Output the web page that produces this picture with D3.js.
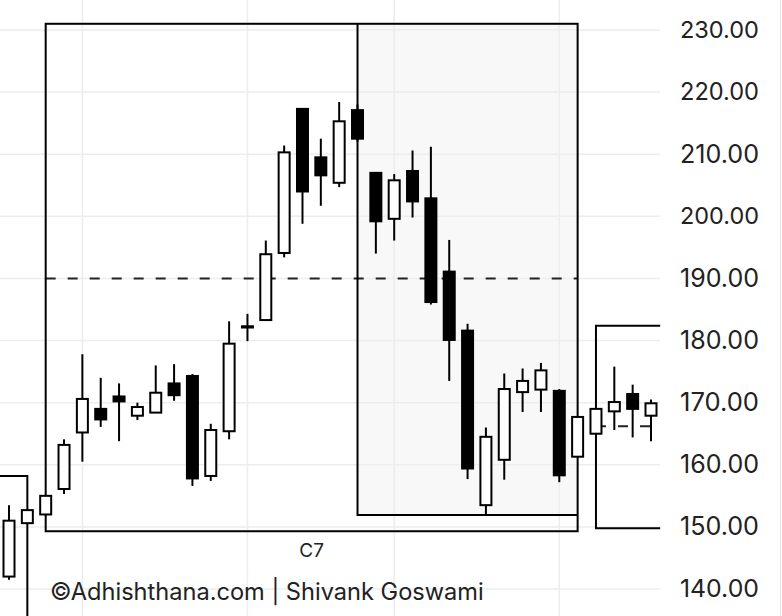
<!DOCTYPE html>
<html>
<head>
<meta charset="utf-8">
<script src="https://cdn.jsdelivr.net/npm/d3@7"></script>
<style>
  html, body { margin: 0; padding: 0; background: #fff; }
  svg { display: block; }
</style>
</head>
<body>
<svg id="chart" width="782" height="616"></svg>
<script>
// ---------- data ----------
const categories = [0,1,2,3,4,5,6,7,8,9,10,11,12,13,14,15,16,17,18,19,20,21,22,23,24,25,26,27,28,29,30,31,32,33,34,35];
const openV  = [142.0,150.6,152.0,156.1,165.2,169.0,171.0,167.9,168.4,173.1,174.3,158.2,165.4,182.1,183.3,194.1,217.3,209.5,205.4,217.1,207.0,199.6,207.3,202.9,191.1,181.6,153.5,160.8,171.7,172.1,171.9,161.3,165.0,168.6,171.4,167.9];
const highV  = [153.5,152.7,155.0,164.1,177.8,174.0,173.1,170.0,176.0,176.2,174.6,166.6,183.1,184.3,196.1,211.4,217.4,212.5,218.4,218.0,207.0,206.8,210.6,211.2,196.2,182.7,166.0,174.7,175.5,176.4,172.2,167.7,169.0,175.8,172.9,170.5];
const lowV   = [141.5,150.6,151.8,155.3,160.5,166.1,163.8,167.2,168.4,170.3,156.6,157.4,164.1,179.9,183.3,193.4,198.8,201.7,204.7,212.0,194.0,196.1,199.8,185.8,173.5,157.7,151.8,157.6,168.5,168.5,157.2,161.3,165.0,165.6,164.4,163.8];
const closeV = [151.0,152.7,155.0,163.2,170.6,167.3,170.2,169.3,171.6,171.2,157.8,165.6,179.5,182.3,193.9,210.3,204.0,206.6,215.3,212.5,199.2,205.8,202.4,186.2,180.1,159.4,164.5,172.2,173.5,175.2,158.3,167.7,169.0,170.1,169.0,169.9];

const yTicks = [140,150,160,170,180,190,200,210,220,230];
const vGridAt = [4,13,21,30];

// boxes: [startIndex, endIndex, topValue, bottomValue]
const leftBox  = [-1, 1, 158.2, 135];
const mainBox  = [2, 31, 231.0, 149.3];
const shadeBox = [19, 31, 231.0, 151.9];
const rightBox = [32, 35.5, 182.4, 149.8];
const midLine  = [2, 31, 190.0];
const subLine  = [32, 35, 166.2];
const boxLabel = "C7";
const credit = "©Adhishthana.com | Shivank Goswami";

// ---------- scales ----------
const W = 782, H = 616;
const x = d3.scaleLinear().domain([0, 35]).range([9, 651]);
const y = d3.scaleLinear().domain([140, 230]).range([589, 30]);
const FONT = "Inter, 'Noto Sans', sans-serif";

const svg = d3.select("#chart");
svg.append("rect").attr("width", W).attr("height", H).attr("fill", "#fff");

// shaded region
svg.append("rect")
  .attr("x", x(shadeBox[0])).attr("y", y(shadeBox[2]))
  .attr("width", x(shadeBox[1]) - x(shadeBox[0]))
  .attr("height", y(shadeBox[3]) - y(shadeBox[2]))
  .attr("fill", "#f8f8f8");

// grid
const grid = svg.append("g").attr("stroke", "#ededed").attr("stroke-width", 1.5);
grid.selectAll("line.h").data(yTicks).join("line")
  .attr("x1", 0).attr("x2", x(35.5))
  .attr("y1", d => y(d)).attr("y2", d => y(d));
grid.selectAll("line.v").data(vGridAt).join("line")
  .attr("x1", d => x(d)).attr("x2", d => x(d))
  .attr("y1", 0).attr("y2", H);
svg.append("line").attr("x1", 780.5).attr("x2", 780.5).attr("y1", 0).attr("y2", H)
  .attr("stroke", "#e6e6e6").attr("stroke-width", 1);

// dashed lines
svg.append("line")
  .attr("x1", x(midLine[0])).attr("x2", x(midLine[1]))
  .attr("y1", y(midLine[2])).attr("y2", y(midLine[2]))
  .attr("stroke", "#222").attr("stroke-width", 2).attr("stroke-dasharray", "10,12");
svg.append("line")
  .attr("x1", x(subLine[0])).attr("x2", x(subLine[1]))
  .attr("y1", y(subLine[2])).attr("y2", y(subLine[2]))
  .attr("stroke", "#222").attr("stroke-width", 2).attr("stroke-dasharray", "10,12");

// boxes
const boxG = svg.append("g").attr("fill", "none").attr("stroke", "#000").attr("stroke-width", 2);
boxG.append("path").attr("d",
  `M${x(leftBox[0]) - 20},${y(leftBox[2])} H${x(leftBox[1])} V${y(leftBox[3])}`);
boxG.append("rect")
  .attr("x", x(mainBox[0])).attr("y", y(mainBox[2]))
  .attr("width", x(mainBox[1]) - x(mainBox[0]))
  .attr("height", y(mainBox[3]) - y(mainBox[2]));
boxG.append("path").attr("d",
  `M${x(shadeBox[0])},${y(shadeBox[2])} V${y(shadeBox[3])} H${x(shadeBox[1])}`);
boxG.append("path").attr("d",
  `M${x(rightBox[1])},${y(rightBox[2])} H${x(rightBox[0])} V${y(rightBox[3])} H${x(rightBox[1])}`);

// candles
const candles = categories.map((c, i) => ({ c, o: openV[i], h: highV[i], l: lowV[i], cl: closeV[i] }));
const bodyW = 11;
const cg = svg.append("g").selectAll("g").data(candles).join("g");
cg.append("line")
  .attr("x1", d => x(d.c)).attr("x2", d => x(d.c))
  .attr("y1", d => y(d.h)).attr("y2", d => y(d.l))
  .attr("stroke", "#000").attr("stroke-width", 2);
cg.append("rect")
  .attr("x", d => x(d.c) - bodyW / 2)
  .attr("y", d => y(Math.max(d.o, d.cl)))
  .attr("width", bodyW)
  .attr("height", d => Math.max(0.6, Math.abs(y(d.o) - y(d.cl))))
  .attr("fill", d => d.cl >= d.o ? "#fff" : "#000")
  .attr("stroke", "#000").attr("stroke-width", 2);

// y axis labels
const axis = d3.axisRight(y).tickValues(yTicks).tickFormat(d3.format(".2f")).tickSize(0).tickPadding(0);
const ag = svg.append("g").attr("transform", "translate(680,0)").call(axis);
ag.select(".domain").remove();
ag.selectAll("text").attr("fill", "#222").style("font-family", FONT).style("font-size", "22px");

function fitWidth(sel, target) {
  const n = sel.node();
  const w = n.getComputedTextLength();
  const fs = parseFloat(sel.style("font-size"));
  if (w > 0) sel.style("font-size", (fs * target / w) + "px");
}
ag.selectAll("text").each(function () { fitWidth(d3.select(this), 79); });

// labels
svg.append("text")
  .attr("x", (x(mainBox[0]) + x(mainBox[1])) / 2).attr("y", 557)
  .attr("text-anchor", "middle").attr("fill", "#222")
  .style("font-family", FONT).style("font-size", "19px").text(boxLabel);

const cr = svg.append("text")
  .attr("x", 50).attr("y", 600)
  .attr("fill", "#222")
  .style("font-family", FONT).style("font-size", "21px").text(credit);
fitWidth(cr, 434);
</script>
</body>
</html>
